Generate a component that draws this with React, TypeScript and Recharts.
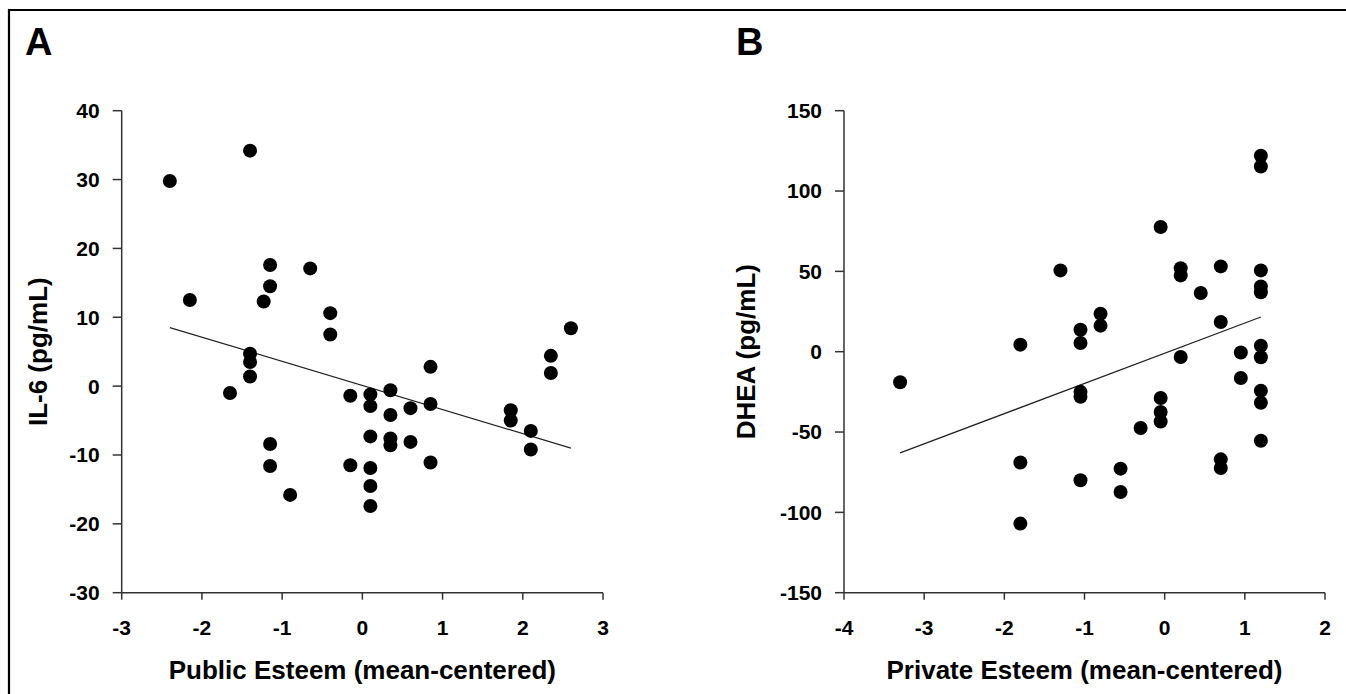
import React from 'react';
import { ScatterChart, Scatter, XAxis, YAxis, ReferenceLine, Label } from 'recharts';

// Panel A: Public Esteem vs IL-6
const publicEsteem = [
  -2.4, -1.4, -2.15, -1.15, -1.15, -1.23, -0.65, -0.4, -0.4, -1.4,
  -1.4, -1.4, -1.65, -1.15, -1.15, -0.9, -0.15, 0.1, 0.1, 0.1,
  -0.15, 0.1, 0.1, 0.1, 0.35, 0.35, 0.6, 0.85, 0.85, 0.35,
  0.35, 0.6, 0.85, 1.85, 1.85, 2.1, 2.1, 2.35, 2.35, 2.6,
];
const il6 = [
  29.8, 34.2, 12.5, 17.6, 14.5, 12.3, 17.1, 10.6, 7.5, 4.7,
  3.5, 1.4, -1.0, -8.4, -11.6, -15.8, -1.4, -1.2, -2.9, -7.3,
  -11.5, -11.9, -14.5, -17.4, -0.6, -4.2, -3.2, 2.8, -2.6, -7.6,
  -8.6, -8.1, -11.1, -3.5, -5.0, -6.5, -9.2, 4.4, 1.9, 8.4,
];
const fitAX = [-2.4, 2.6];
const fitAY = [8.5, -9.0];
const xTicksA = [-3, -2, -1, 0, 1, 2, 3];
const yTicksA = [-30, -20, -10, 0, 10, 20, 30, 40];

// Panel B: Private Esteem vs DHEA
const privateEsteem = [
  -3.3, -1.8, -1.8, -1.8, -1.3, -1.05, -1.05, -1.05, -1.05, -1.05,
  -0.8, -0.8, -0.55, -0.55, -0.3, -0.05, -0.05, -0.05, -0.05, 0.2,
  0.2, 0.2, 0.45, 0.7, 0.7, 0.7, 0.7, 0.95, 0.95, 1.2,
  1.2, 1.2, 1.2, 1.2, 1.2, 1.2, 1.2, 1.2, 1.2,
];
const dhea = [
  -19, 4.4, -69, -107, 50.6, 13.7, 5.4, -25, -28, -80,
  23.6, 16.2, -72.8, -87.3, -47.5, 77.6, -28.8, -37.5, -43.4, 52,
  47.5, -3.3, 36.5, 53.1, 18.5, -67, -72.4, -0.5, -16.4, 122,
  115.3, 50.6, 40.6, 37, 3.7, -3.5, -24.3, -31.8, -55.4,
];
const fitBX = [-3.3, 1.2];
const fitBY = [-63, 21.6];
const xTicksB = [-4, -3, -2, -1, 0, 1, 2];
const yTicksB = [-150, -100, -50, 0, 50, 100, 150];

const zip = (xs: number[], ys: number[]) => xs.map((x, i) => ({ x, y: ys[i] }));

const FONT = '"Liberation Sans", Arial, sans-serif';
const tickStyle = { fill: '#000', fontSize: 21, fontWeight: 'bold', fontFamily: FONT };
const lineStyle = { stroke: '#333', strokeWidth: 1.5 };
const titleStyle = { fill: '#000', fontSize: 26, fontWeight: 'bold', fontFamily: FONT };

const Dot = (props: any) => {
  const { cx, cy } = props;
  if (cx == null || cy == null) return null;
  return <circle cx={cx} cy={cy} r={7} fill="#000" />;
};

interface PanelProps {
  left: number;
  xs: number[];
  ys: number[];
  fitX: number[];
  fitY: number[];
  xTicks: number[];
  yTicks: number[];
  xTitle: string;
  yTitle: string;
  marginLeft: number;
  marginRight: number;
  yAxisWidth: number;
  yTitleOffset: number;
}

const Panel = (p: PanelProps) => {
  const data = zip(p.xs, p.ys);
  const seg = zip(p.fitX, p.fitY);
  return (
    <div style={{ position: 'absolute', left: p.left, top: 0 }}>
      <ScatterChart
        width={673}
        height={694}
        margin={{ top: 110.7, right: p.marginRight, bottom: 11.3, left: p.marginLeft }}
      >
        <XAxis
          type="number"
          dataKey="x"
          domain={[p.xTicks[0], p.xTicks[p.xTicks.length - 1]]}
          ticks={p.xTicks}
          interval={0}
          height={90}
          tick={tickStyle}
          tickSize={7}
          tickMargin={20}
          axisLine={lineStyle}
          tickLine={lineStyle}
        >
          <Label value={p.xTitle} position="insideBottom" offset={3.7} style={titleStyle} />
        </XAxis>
        <YAxis
          type="number"
          dataKey="y"
          domain={[p.yTicks[0], p.yTicks[p.yTicks.length - 1]]}
          ticks={p.yTicks}
          interval={0}
          width={p.yAxisWidth}
          tick={tickStyle}
          tickSize={9}
          tickMargin={13}
          axisLine={lineStyle}
          tickLine={lineStyle}
        >
          <Label
            value={p.yTitle}
            position="insideLeft"
            angle={-90}
            offset={p.yTitleOffset}
            textAnchor="middle"
            style={titleStyle}
          />
        </YAxis>
        <ReferenceLine segment={seg} stroke="#222" strokeWidth={1.2} ifOverflow="visible" />
        <Scatter data={data} shape={<Dot />} isAnimationActive={false} />
      </ScatterChart>
    </div>
  );
};

export default function App() {
  return (
    <div
      style={{
        position: 'fixed',
        left: 0,
        top: 0,
        width: 1346,
        height: 694,
        background: '#fff',
        overflow: 'hidden',
      }}
    >
      <svg
        width={1346}
        height={694}
        style={{ position: 'absolute', left: 0, top: 0, pointerEvents: 'none' }}
      >
        <path d="M9 700 V10 H1350" fill="none" stroke="#000" strokeWidth={2.2} />
        <text x={25} y={55} fontSize={38} fontWeight="bold" fontFamily={FONT} fill="#000">
          A
        </text>
        <text x={736} y={55} fontSize={38} fontWeight="bold" fontFamily={FONT} fill="#000">
          B
        </text>
      </svg>
      <Panel
        left={0}
        xs={publicEsteem}
        ys={il6}
        fitX={fitAX}
        fitY={fitAY}
        xTicks={xTicksA}
        yTicks={yTicksA}
        xTitle="Public Esteem (mean-centered)"
        yTitle="IL-6 (pg/mL)"
        marginLeft={10}
        marginRight={70}
        yAxisWidth={111.7}
        yTitleOffset={28}
      />
      <Panel
        left={673}
        xs={privateEsteem}
        ys={dhea}
        fitX={fitBX}
        fitY={fitBY}
        xTicks={xTicksB}
        yTicks={yTicksB}
        xTitle="Private Esteem (mean-centered)"
        yTitle="DHEA (pg/mL)"
        marginLeft={10}
        marginRight={21}
        yAxisWidth={161}
        yTitleOffset={63}
      />
    </div>
  );
}
